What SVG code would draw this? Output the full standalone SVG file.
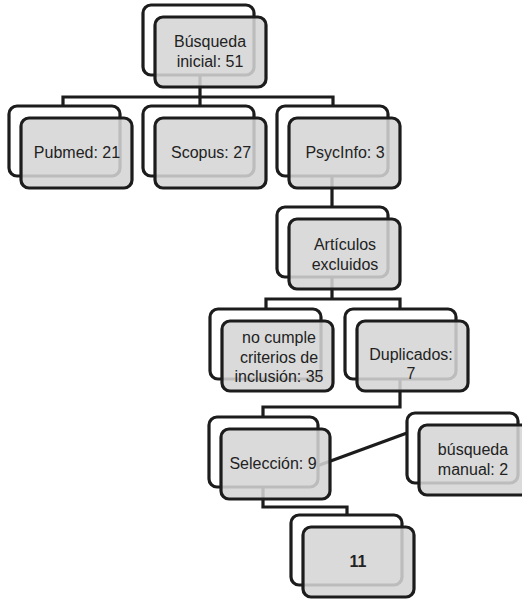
<svg xmlns="http://www.w3.org/2000/svg" width="522" height="600" viewBox="0 0 522 600">
<style>
.bk{fill:#fff;stroke:#1c1c1c;stroke-width:3.2}
.fr{fill:#d4d4d4;fill-opacity:0.87;stroke:#1c1c1c;stroke-width:3.2}
.cn{fill:none;stroke:#1c1c1c;stroke-width:3.2}
text{font-family:"Liberation Sans",Arial,sans-serif;font-size:16px;fill:#222;text-anchor:middle}
.b{font-weight:bold}
</style>
<rect width="522" height="600" fill="#fff"/>
<g id="connectors">
<path class="cn" d="M200,75 V97 M63,106 V97 H333 V106 M200,97 V106"/>
<path class="cn" d="M332,176 V207"/>
<path class="cn" d="M332,277 V299 M266,309 V299 H400 V309"/>
<path class="cn" d="M400,380 V407 H263 V417"/>
<path class="cn" d="M263,487 V507 H347 V515"/>
<path class="cn" d="M317,466 L407,433"/>
</g>
<g id="n-busqueda-inicial">
<rect class="bk" x="143" y="5" width="111" height="70" rx="8"/>
<rect class="fr" x="155" y="17" width="111" height="70" rx="8"/>
<text x="210" y="47">Búsqueda</text>
<text x="210" y="67">inicial: 51</text>
</g>
<g id="n-pubmed">
<rect class="bk" x="9" y="106" width="111" height="70" rx="8"/>
<rect class="fr" x="21" y="118" width="111" height="70" rx="8"/>
<text x="77" y="158">Pubmed: 21</text>
</g>
<g id="n-scopus">
<rect class="bk" x="143" y="106" width="111" height="70" rx="8"/>
<rect class="fr" x="155" y="118" width="111" height="70" rx="8"/>
<text x="211" y="158">Scopus: 27</text>
</g>
<g id="n-psycinfo">
<rect class="bk" x="277" y="106" width="111" height="70" rx="8"/>
<rect class="fr" x="289" y="118" width="111" height="70" rx="8"/>
<text x="345" y="158">PsycInfo: 3</text>
</g>
<g id="n-articulos">
<rect class="bk" x="277" y="207" width="111" height="70" rx="8"/>
<rect class="fr" x="289" y="219" width="111" height="70" rx="8"/>
<text x="345" y="250">Artículos</text>
<text x="345" y="270">excluidos</text>
</g>
<g id="n-no-cumple">
<rect class="bk" x="210" y="309" width="111" height="70" rx="8"/>
<rect class="fr" x="222" y="321" width="111" height="70" rx="8"/>
<text x="279" y="343">no cumple</text>
<text x="279" y="363">criterios de</text>
<text x="279" y="382">inclusión: 35</text>
</g>
<g id="n-duplicados">
<rect class="bk" x="345" y="309" width="111" height="70" rx="8"/>
<rect class="fr" x="357" y="321" width="111" height="70" rx="8"/>
<text x="411" y="360">Duplicados:</text>
<text x="411" y="379">7</text>
</g>
<g id="n-seleccion">
<rect class="bk" x="209" y="417" width="109" height="70" rx="8"/>
<rect class="fr" x="221" y="429" width="109" height="70" rx="8"/>
<text x="273" y="469">Selección: 9</text>
</g>
<g id="n-busqueda-manual">
<rect class="bk" x="407" y="413" width="111" height="70" rx="8"/>
<rect class="fr" x="419" y="425" width="111" height="70" rx="8"/>
<text x="473" y="455">búsqueda</text>
<text x="473" y="475">manual: 2</text>
</g>
<g id="n-11">
<rect class="bk" x="291" y="515" width="111" height="70" rx="8"/>
<rect class="fr" x="303" y="527" width="111" height="70" rx="8"/>
<text class="b" x="358" y="567">11</text>
</g>
</svg>
